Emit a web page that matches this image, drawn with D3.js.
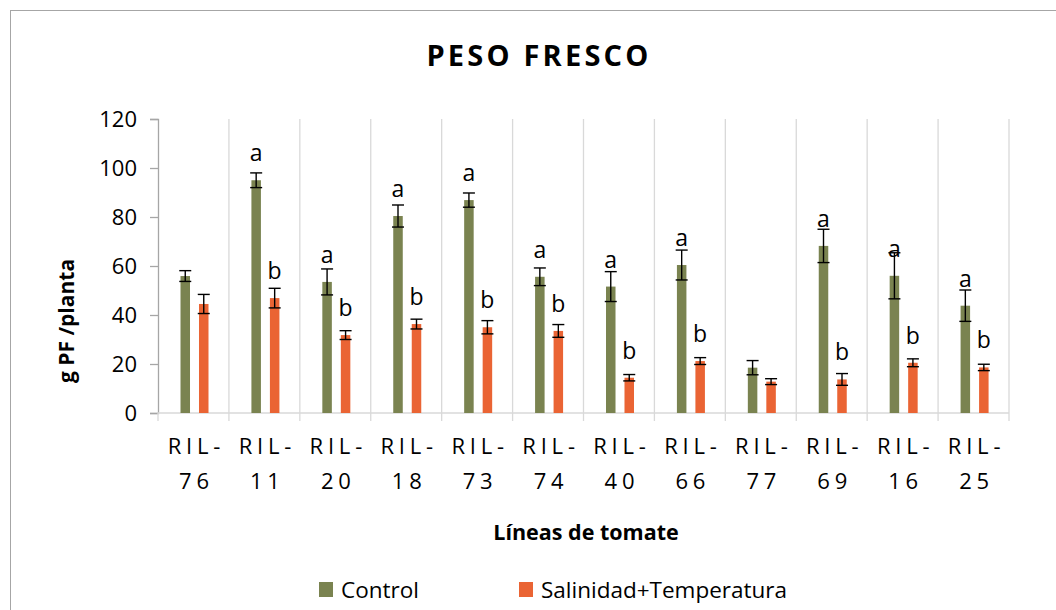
<!DOCTYPE html>
<html lang="es">
<head>
  <meta charset="UTF-8" />
  <title>Peso fresco</title>
  <style>
    html, body {
      margin: 0;
      padding: 0;
      background: #fff;
      font-family: "Open Sans", sans-serif;
    }
    svg { display: block; }
  </style>
</head>
<body>
<svg id="chart" width="1056" height="610"></svg>

<script src="https://d3js.org/d3.v7.min.js"></script>
<script>
  // Data
  const lines = ["76", "11", "20", "18", "73", "74", "40", "66", "77", "69", "16", "25"];
  const series = ["Control", "Salinidad+Temperatura"];
  const controlMean = [55.9, 95.0, 53.5, 80.4, 86.9, 55.6, 51.6, 60.4, 18.5, 68.2, 56.0, 43.8];
  const controlErr  = [2.2, 3.0, 5.3, 4.5, 2.9, 3.6, 6.1, 6.1, 2.9, 6.8, 9.4, 6.4];
  const saltMean    = [44.5, 46.9, 31.8, 36.3, 35.0, 33.5, 14.4, 21.2, 12.8, 13.7, 20.5, 18.6];
  const saltErr     = [3.9, 4.0, 1.8, 2.0, 2.7, 2.6, 1.3, 1.4, 1.2, 2.4, 1.6, 1.3];
  const controlLetters = ["", "a", "a", "a", "a", "a", "a", "a", "", "a", "a", "a"];
  const saltLetters    = ["", "b", "b", "b", "b", "b", "b", "b", "", "b", "b", "b"];
  const yTicks = [0, 20, 40, 60, 80, 100, 120];

  const colors = { "Control": "#7a8350", "Salinidad+Temperatura": "#ea6434" };

  const rows = lines.map((l, i) => ({
    line: l,
    values: [
      { s: series[0], v: controlMean[i], e: controlErr[i], t: controlLetters[i] },
      { s: series[1], v: saltMean[i], e: saltErr[i], t: saltLetters[i] }
    ]
  }));

  const svg = d3.select("#chart");
  const plotLeft = 158, plotRight = 1009, plotTop = 119, plotBottom = 413;

  // chart frame
  svg.append("rect")
    .attr("x", 10.5).attr("y", 10.5)
    .attr("width", 1100).attr("height", 700)
    .attr("fill", "none")
    .attr("stroke", "#a6a6a6");

  svg.append("text")
    .attr("x", 539).attr("y", 66)
    .attr("text-anchor", "middle")
    .attr("font-size", 29)
    .attr("font-weight", "bold")
    .attr("letter-spacing", 3.2)
    .text("PESO FRESCO");

  const x0 = d3.scaleBand().domain(lines).range([plotLeft, plotRight]).padding(0);
  const x1 = d3.scaleBand().domain(series).range([22.5, 50.5]).paddingInner(0.486);
  const y = d3.scaleLinear().domain([0, 120]).range([plotBottom, plotTop]);

  // vertical gridlines at category boundaries
  const bounds = lines.map(l => x0(l)).concat([plotRight]).slice(1);
  svg.append("g").selectAll("line")
    .data(bounds)
    .join("line")
    .attr("x1", d => d).attr("x2", d => d)
    .attr("y1", plotTop).attr("y2", plotBottom)
    .attr("stroke", "#d9d9d9")
    .attr("stroke-width", 1.3);

  // y axis
  const yAxis = svg.append("g")
    .attr("transform", `translate(${plotLeft},0)`)
    .call(d3.axisLeft(y).tickValues(yTicks).tickSize(8).tickPadding(13));
  yAxis.select(".domain").attr("stroke", "#a6a6a6").attr("stroke-width", 1.3);
  yAxis.selectAll(".tick line").attr("stroke", "#a6a6a6").attr("stroke-width", 1.3);
  yAxis.selectAll(".tick text")
    .attr("font-family", "Open Sans")
    .attr("font-size", 22)
    .attr("fill", "#000")
    .attr("dy", "0.36em");

  // x axis line + ticks at boundaries
  svg.append("line")
    .attr("x1", plotLeft).attr("x2", plotRight)
    .attr("y1", plotBottom).attr("y2", plotBottom)
    .attr("stroke", "#d9d9d9").attr("stroke-width", 1.5);
  svg.append("g").selectAll("line")
    .data([plotLeft].concat(bounds))
    .join("line")
    .attr("x1", d => d).attr("x2", d => d)
    .attr("y1", plotBottom).attr("y2", plotBottom + 8)
    .attr("stroke", "#d9d9d9").attr("stroke-width", 1.3);

  // category labels
  const xl = svg.append("g").selectAll("text")
    .data(lines)
    .join("text")
    .attr("text-anchor", "middle")
    .attr("font-size", 22)
    .attr("letter-spacing", 4.8);
  xl.append("tspan")
    .attr("x", d => x0(d) + x0.bandwidth() / 2 + 3)
    .attr("y", 454)
    .text("RIL-");
  xl.append("tspan")
    .attr("x", d => x0(d) + x0.bandwidth() / 2 + 3)
    .attr("y", 489)
    .text(d => d);

  // bars
  const groups = svg.append("g").selectAll("g")
    .data(rows)
    .join("g")
    .attr("transform", d => `translate(${x0(d.line)},0)`);

  groups.selectAll("rect")
    .data(d => d.values)
    .join("rect")
    .attr("x", d => x1(d.s))
    .attr("width", x1.bandwidth())
    .attr("y", d => y(d.v))
    .attr("height", d => y(0) - y(d.v))
    .attr("fill", d => colors[d.s]);

  // error bars
  const eb = groups.selectAll("g.err")
    .data(d => d.values)
    .join("g")
    .attr("class", "err")
    .attr("stroke", "#000")
    .attr("stroke-width", 1.4);
  eb.append("line")
    .attr("x1", d => x1(d.s) + x1.bandwidth() / 2)
    .attr("x2", d => x1(d.s) + x1.bandwidth() / 2)
    .attr("y1", d => y(d.v + d.e))
    .attr("y2", d => y(d.v - d.e));
  eb.append("line")
    .attr("x1", d => x1(d.s) + x1.bandwidth() / 2 - 6)
    .attr("x2", d => x1(d.s) + x1.bandwidth() / 2 + 6)
    .attr("y1", d => y(d.v + d.e))
    .attr("y2", d => y(d.v + d.e));
  eb.append("line")
    .attr("x1", d => x1(d.s) + x1.bandwidth() / 2 - 6)
    .attr("x2", d => x1(d.s) + x1.bandwidth() / 2 + 6)
    .attr("y1", d => y(d.v - d.e))
    .attr("y2", d => y(d.v - d.e));

  // significance letters
  groups.selectAll("text")
    .data(d => d.values.filter(v => v.t))
    .join("text")
    .attr("x", d => x1(d.s) + x1.bandwidth() / 2)
    .attr("y", d => y(d.v) - 19)
    .attr("text-anchor", "middle")
    .attr("font-size", 23)
    .text(d => d.t);

  // axis titles
  svg.append("text")
    .attr("transform", "translate(74,321) rotate(-90)")
    .attr("text-anchor", "middle")
    .attr("font-size", 21)
    .attr("font-weight", "bold")
    .text("g PF /planta");

  svg.append("text")
    .attr("x", 586).attr("y", 540)
    .attr("text-anchor", "middle")
    .attr("font-size", 21.5)
    .attr("font-weight", "bold")
    .text("Líneas de tomate");

  // legend
  const legendX = [319, 519];
  const lg = svg.append("g").selectAll("g")
    .data(series)
    .join("g")
    .attr("transform", (d, i) => `translate(${legendX[i]},582)`);
  lg.append("rect")
    .attr("width", 14).attr("height", 15)
    .attr("fill", d => colors[d]);
  lg.append("text")
    .attr("x", 22).attr("y", 15.5)
    .attr("font-size", 22.5)
    .text(d => d);
</script>
</body>
</html>
